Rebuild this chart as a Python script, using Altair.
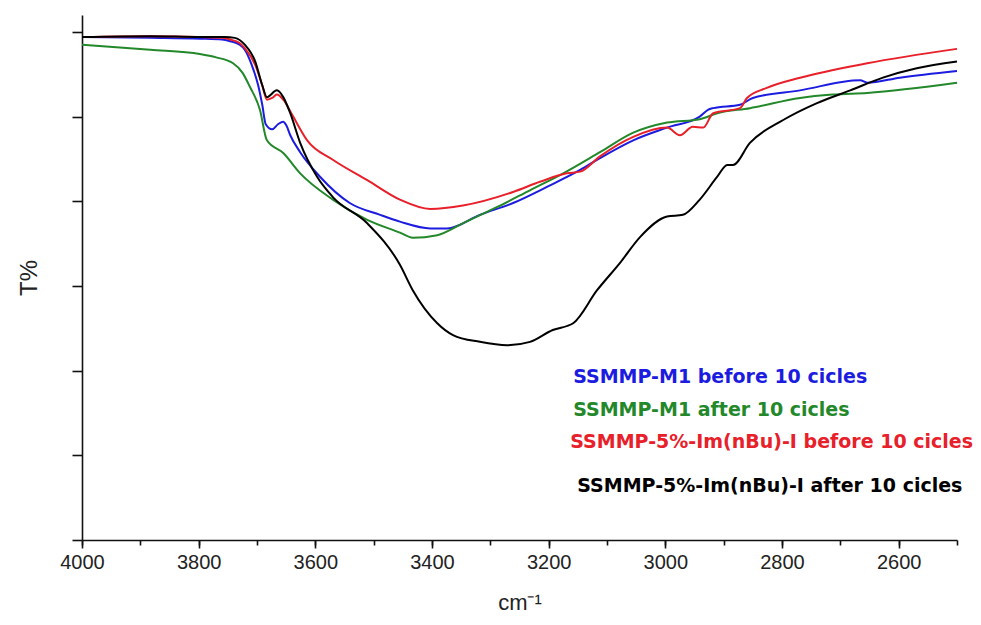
import altair as alt
import pandas as pd

# ---- data (wavenumber cm-1, T% in arbitrary units) ----
blue_name = "SSMMP-M1 before 10 cicles"
green_name = "SSMMP-M1 after 10 cicles"
red_name = "SSMMP-5%-Im(nBu)-I before 10 cicles"
black_name = "SSMMP-5%-Im(nBu)-I after 10 cicles"

blue_wn = [4000, 3883, 3798, 3760, 3746, 3730, 3721, 3709, 3698, 3691, 3685, 3674, 3664, 3655, 3650, 3643,
           3626, 3592, 3541, 3489, 3455, 3403, 3374, 3318, 3261, 3203, 3146, 3112, 3055, 2997,
           2941, 2927, 2918, 2872, 2850, 2769, 2666, 2654, 2598, 2500]
blue_t = [59.4, 59.3, 59.2, 59.1, 58.9, 58.5, 57.9, 56.1, 53.7, 51.4, 49.1, 48.5, 49.1, 49.4, 49.0, 47.8,
          45.8, 42.9, 39.8, 38.4, 37.6, 36.8, 36.8, 38.4, 39.8, 41.7, 43.7, 45.1, 47.2, 48.7,
          50.0, 50.8, 51.0, 51.4, 52.2, 53.1, 54.3, 54.0, 54.6, 55.4]

red_wn = [4000, 3883, 3798, 3760, 3746, 3730, 3721, 3703, 3691, 3683, 3674, 3666, 3655, 3638, 3614, 3570,
          3511, 3455, 3403, 3347, 3261, 3215, 3169, 3146, 3112, 3055, 2997, 2975, 2953, 2935,
          2918, 2872, 2860, 2826, 2769, 2654, 2500]
red_t = [59.4, 59.5, 59.4, 59.3, 59.1, 58.7, 58.1, 56.1, 53.7, 52.0, 52.2, 52.6, 52.0, 50.0, 47.2, 44.9,
         42.5, 40.2, 39.1, 39.5, 41.1, 42.3, 43.3, 43.5, 45.3, 47.6, 48.7, 47.8, 48.8, 48.7,
         50.4, 51.0, 52.2, 53.4, 54.6, 56.3, 58.0]

green_wn = [4000, 3883, 3798, 3770, 3741, 3725, 3712, 3695, 3683, 3655, 3626, 3570, 3511, 3455, 3433, 3391,
            3347, 3289, 3232, 3175, 3112, 3055, 2997, 2941, 2911, 2855, 2769, 2713, 2654, 2500]
green_t = [58.5, 57.9, 57.4, 57.0, 56.3, 55.2, 53.5, 50.8, 47.2, 45.7, 43.3, 40.2, 37.8, 36.3, 35.7, 36.0,
           37.4, 39.3, 41.3, 43.3, 45.8, 48.1, 49.3, 49.7, 50.4, 51.0, 52.2, 52.6, 52.8, 54.0]

black_wn = [4000, 3883, 3798, 3755, 3738, 3721, 3703, 3691, 3683, 3666, 3655, 3643, 3626, 3597, 3570,
            3511, 3455, 3433, 3391, 3364, 3318, 3271, 3232, 3193, 3158, 3117, 3078, 3043, 2997,
            2970, 2941, 2911, 2894, 2884, 2855, 2798, 2740, 2683, 2627, 2569, 2500]
black_t = [59.4, 59.5, 59.4, 59.4, 59.3, 58.5, 56.5, 53.7, 52.3, 53.1, 52.3, 50.4, 46.9, 42.9, 40.5,
           37.4, 32.5, 29.5, 25.6, 24.2, 23.4, 23.0, 23.4, 24.8, 25.6, 29.5, 32.7, 35.8, 38.2,
           38.4, 40.2, 42.9, 44.3, 44.3, 46.9, 49.6, 51.6, 53.1, 54.6, 55.7, 56.5]

series_names = [blue_name, green_name, red_name, black_name]
series_colors = ["#1c1ce0", "#22882a", "#e8202a", "#000000"]

legend_wn = [3158, 3158, 3163, 3151]
legend_t = [19.25, 15.35, 11.6, 6.4]

x_major = [4000, 3800, 3600, 3400, 3200, 3000, 2800, 2600]
x_minor = [4000, 3900, 3800, 3700, 3600, 3500, 3400, 3300, 3200, 3100, 3000, 2900, 2800, 2700, 2600, 2500]
y_ticks = [0, 10, 20, 30, 40, 50, 60]

# ---- tables ----
rows = []
for name, wn, t in [(blue_name, blue_wn, blue_t), (green_name, green_wn, green_t),
                    (red_name, red_wn, red_t), (black_name, black_wn, black_t)]:
    for w, v in zip(wn, t):
        rows.append({"series": name, "wn": w, "T": v})
df = pd.DataFrame(rows)
leg = pd.DataFrame({"series": series_names, "wn": legend_wn, "T": legend_t})

FONT = "Liberation Sans"
xscale = alt.Scale(domain=[4000, 2500], nice=False, zero=False)
yscale = alt.Scale(domain=[0, 62], nice=False, zero=False)
color = alt.Color("series:N", scale=alt.Scale(domain=series_names, range=series_colors), legend=None)

yaxis = alt.Axis(values=y_ticks, labels=False, tickSize=10, tickWidth=1.6, domainWidth=1.6,
                 domainColor="#111", tickColor="#111", grid=False, title="T%",
                 titleFont=FONT, titleFontSize=24, titleFontWeight="normal", titleColor="#222",
                 titlePadding=30)

lines = alt.Chart(df).mark_line(strokeWidth=2, interpolate="monotone").encode(
    x=alt.X("wn:Q", scale=xscale,
            axis=alt.Axis(values=x_major, format="d", tickSize=8, tickWidth=1.6, domainWidth=1.6,
                          domainColor="#111", tickColor="#111", grid=False,
                          labelFont=FONT, labelFontSize=20, labelColor="#222", labelPadding=4,
                          labelFlush=False, labelOverlap=False,
                          title="cm⁻¹", titleFont=FONT, titleFontSize=22, titleFontWeight="normal",
                          titleColor="#222", titlePadding=20, orient="bottom")),
    y=alt.Y("T:Q", scale=yscale, axis=yaxis),
    color=color,
    detail="series:N",
)

texts = alt.Chart(leg).mark_text(align="left", baseline="middle", font="DejaVu Sans",
                                 fontWeight="bold", fontSize=19).encode(
    x=alt.X("wn:Q", scale=xscale,
            axis=alt.Axis(values=x_minor, tickSize=5, tickWidth=1.6, tickColor="#111",
                          labels=False, domain=False, grid=False, title=None, orient="bottom")),
    y=alt.Y("T:Q", scale=yscale, axis=yaxis),
    text="series:N",
    color=color,
)

chart = alt.layer(lines, texts).resolve_axis(x="independent").properties(
    width=875, height=525,
    padding={"left": 74, "top": 7, "right": 16, "bottom": 76},
    autosize=alt.AutoSizeParams(type="none"),
).configure_view(stroke=None)

chart.save("out.html", embed_options={"renderer": "svg", "actions": False})
